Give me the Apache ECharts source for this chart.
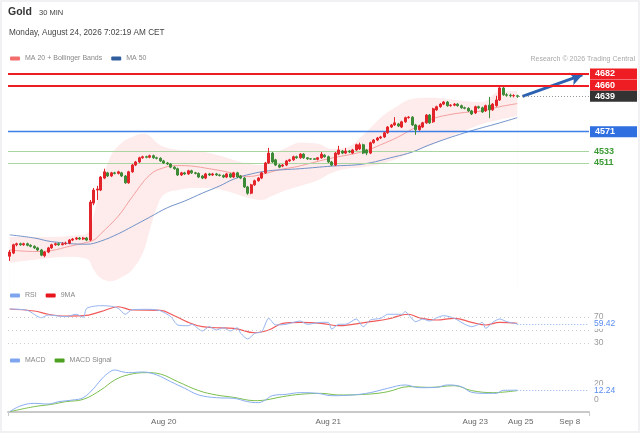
<!DOCTYPE html>
<html><head><meta charset="utf-8">
<script src="https://cdn.jsdelivr.net/npm/echarts@6/dist/echarts.min.js"></script>
<style>
html,body{margin:0;padding:0;background:#fff;}
#c{position:absolute;left:0;top:0;width:640px;height:433px;}
#frame{position:absolute;left:0;top:0;width:640px;height:433px;box-sizing:border-box;border:2px solid #f1f1f3;pointer-events:none;}
</style></head><body>
<div id="c"></div><div id="frame"></div>
<script>
// ---------- data ----------
const SLOTS = 166;                       // 146 candles + future space
const tickIndex = [44, 91, 133, 146, 160];
const tickText = ['Aug 20', 'Aug 21', 'Aug 23', 'Aug 25', 'Sep 8'];

// [open, close, low, high]
const ohlc = [
[4332,4340,4323,4344],[4338,4354,4336,4356],[4354,4356,4351,4358],[4356,4354,4352,4358],[4354,4356,4352,4358],
[4356,4353,4351,4358],[4353,4351,4349,4355],[4351,4348,4346,4353],[4348,4344,4342,4350],[4344,4334,4332,4346],
[4333,4340,4330,4342],[4340,4348,4338,4350],[4348,4354,4346,4356],[4354,4356,4352,4358],[4356,4354,4352,4358],
[4354,4356,4353,4359],[4356,4357,4354,4360],[4357,4363,4355,4365],[4363,4365,4361,4367],[4365,4367,4363,4369],
[4367,4365,4363,4369],[4365,4367,4363,4369],[4367,4363,4361,4369],[4363,4436,4361,4440],[4434,4459,4430,4463],
[4459,4461,4440,4467],[4459,4484,4457,4486],[4482,4494,4480,4500],[4492,4486,4484,4494],[4486,4492,4484,4494],
[4492,4491,4489,4494],[4491,4494,4489,4496],[4492,4486,4484,4494],[4486,4473,4471,4488],[4473,4494,4471,4496],
[4494,4507,4492,4509],[4507,4513,4505,4515],[4513,4521,4511,4523],[4521,4523,4519,4525],[4523,4522,4520,4525],
[4522,4525,4520,4527],[4525,4521,4519,4527],[4521,4520,4518,4523],[4520,4515,4513,4522],[4515,4511,4509,4517],
[4511,4509,4507,4513],[4509,4503,4501,4511],[4503,4500,4498,4505],[4500,4488,4486,4502],[4488,4492,4486,4494],
[4492,4490,4488,4494],[4490,4496,4488,4498],[4496,4492,4490,4498],[4492,4491,4489,4494],[4491,4484,4482,4493],
[4486,4482,4480,4488],[4482,4490,4480,4492],[4490,4488,4486,4492],[4488,4490,4486,4492],[4490,4488,4486,4492],
[4488,4487,4485,4490],[4487,4484,4482,4489],[4484,4490,4482,4492],[4490,4484,4482,4492],[4484,4492,4482,4494],
[4492,4484,4482,4494],[4486,4482,4480,4488],[4482,4465,4463,4484],[4465,4453,4450,4467],[4453,4469,4451,4471],
[4469,4477,4467,4479],[4477,4482,4475,4484],[4482,4492,4480,4494],[4492,4511,4490,4513],[4511,4530,4509,4540],
[4530,4513,4511,4532],[4517,4507,4505,4519],[4507,4503,4501,4509],[4505,4507,4503,4509],[4507,4515,4505,4517],
[4515,4517,4513,4519],[4517,4523,4515,4525],[4523,4521,4519,4525],[4521,4528,4519,4530],[4528,4521,4519,4530],
[4521,4519,4517,4522],[4519,4518.5,4517,4520],[4519,4518,4517,4520],[4518,4521,4516,4522],[4521,4528,4519,4532],
[4526,4523,4521,4528],[4523,4513,4511,4525],[4513,4507,4505,4515],[4507,4530,4505,4532],[4528,4536,4526,4544],
[4534,4530,4528,4536],[4530,4534,4528,4540],[4534,4532,4530,4536],[4530,4536,4528,4538],[4536,4546,4534,4548],
[4538,4546,4536,4550],[4546,4530,4528,4548],[4536,4530,4526,4538],[4530,4550,4528,4552],[4550,4555,4548,4557],
[4555,4559,4553,4561],[4559,4561,4557,4563],[4561,4569,4559,4571],[4569,4580,4567,4582],[4580,4584,4578,4586],
[4584,4588,4582,4599],[4586,4582,4580,4588],[4580,4590,4578,4592],[4590,4598,4588,4600],[4598,4599,4596,4601],
[4599,4584,4582,4601],[4584,4575,4565,4586],[4575,4582,4573,4584],[4580,4588,4578,4590],[4588,4603,4586,4605],
[4603,4588,4586,4605],[4590,4615,4588,4617],[4613,4619,4611,4621],[4619,4624,4617,4626],[4624,4628,4622,4630],
[4628,4621,4619,4630],[4621,4622,4619,4624],[4622,4624,4620,4626],[4624,4621,4619,4626],[4621,4617,4615,4623],
[4617,4616,4614,4619],[4616,4611,4609,4618],[4611,4605,4603,4613],[4607,4619,4605,4621],[4619,4617,4615,4621],
[4617,4609,4607,4619],[4611,4621,4609,4623],[4622,4613,4597,4638],[4613,4624,4611,4626],[4621,4632,4619,4640],
[4632,4655,4630,4657],[4655,4642,4640,4657],[4642,4641,4638,4645],[4641,4640,4637,4644],[4640,4640.5,4637,4643],
[4640,4639,4636,4642]
];

// [candle index, value] read at key points
const ma20 = [[0,4344],[7,4341],[12,4343],[17,4351],[21,4357],[24,4363],[26,4375],[31,4409],[35,4446],[40,4488],
[44,4502],[48,4506],[52,4505],[57,4500],[62,4494],[68,4485],[72,4489],[77,4498],[82,4504],[91,4519],[101,4533],
[106,4546],[111,4561],[115,4576],[120,4594],[125,4603],[130,4608],[135,4611],[140,4619],[145,4625]];
const ma50 = [[0,4373],[7,4367],[12,4360],[22,4355],[26,4361],[31,4375],[35,4389],[40,4407],[45,4425],[50,4438],
[55,4453],[60,4467],[64,4480],[69,4490],[74,4496],[78,4498],[83,4500],[92,4505],[101,4509],[110,4523],[115,4532],
[120,4546],[130,4569],[140,4588],[145,4598]];
const bandIndex = [0,7,12,17,22,24,26,29,32,35,38,40,42,44,48,53,57,62,67,72,75,79,83,88,92,96,101,106,110,115,120,125,130,135,140,145];
const bandUpper = [4369,4369,4369,4371,4375,4411,4469,4526,4550,4561,4567,4563,4550,4542,4536,4534,4530,4521,4511,4507,4526,4540,4550,4548,4538,4540,4565,4598,4617,4634,4636,4634,4630,4628,4648,4649];
const bandLower = [4319,4325,4329,4331,4327,4306,4290,4284,4292,4306,4338,4382,4425,4450,4459,4463,4463,4457,4446,4440,4448,4459,4467,4478,4492,4500,4503,4509,4517,4532,4544,4559,4573,4586,4594,4601];

const rsi = [[0,82.3],[5,80.3],[9,68.9],[11,73.1],[16,70.5],[19,74.2],[21,69.5],[22,83.4],[26,87.4],[29,86.5],[31,83.4],
[33,74.2],[35,81.2],[40,81.8],[43,79.7],[46,70.5],[48,57.7],[51,56.6],[52,58.8],[55,48.5],[57,55.1],[59,50.0],[61,53.5],
[63,48.5],[65,53.5],[66,44.9],[68,36.2],[70,44.9],[72,47.4],[74,68.0],[76,57.7],[79,58.8],[83,63.8],[85,58.8],[89,61.8],
[91,61.8],[92,51.5],[94,58.8],[96,58.8],[99,66.9],[101,55.1],[103,65.4],[106,68.0],[108,74.2],[112,74.2],[113,78.2],
[114,73.1],[116,62.8],[118,66.9],[120,63.8],[122,68.9],[124,72.0],[127,68.0],[130,58.8],[132,55.1],[134,58.8],[135,61.8],
[136,52.6],[138,61.8],[140,66.9],[142,62.8],[145,59.42]];
const rsiMA = [[0,82.3],[7,79.2],[11,74.2],[16,71.5],[21,72.0],[26,78.2],[31,85.8],[35,80.8],[43,80.3],[47,72.0],[51,61.8],
[55,55.1],[59,53.5],[64,52.6],[70,45.8],[74,50.0],[78,60.3],[83,61.8],[89,60.3],[94,56.6],[98,58.8],[103,62.8],[108,66.9],
[114,74.2],[117,68.9],[122,65.4],[127,68.0],[132,61.8],[136,57.7],[140,61.8],[145,60.3]];
const macd = [[0,-14.6],[3,-7.5],[7,-4.2],[11,-5],[14,-2.1],[18,0],[21,2.9],[24,14.6],[26,25],[28,33.3],[30,37.5],[32,35.4],
[34,34.2],[38,35],[42,31.3],[46,22.9],[50,14.6],[54,6.3],[59,2.9],[64,2.1],[68,-2.1],[71,-3.3],[73,0],[75,5.4],[79,7.1],
[83,9.2],[88,8.3],[92,5.4],[98,6.3],[103,9.2],[108,14.6],[113,18.8],[117,15.4],[122,15.8],[125,18.8],[129,16.7],[132,9.6],
[136,8.3],[139,8.3],[141,12.1],[145,12.24]];
const macdSignal = [[0,-14.6],[7,-8.3],[12,-5.4],[16,-2.1],[21,0.8],[26,12.5],[30,25],[34,31.7],[39,34.2],[43,32.5],[48,22.9],
[54,11.7],[59,6.3],[64,3.3],[70,-0.8],[73,0],[78,4.2],[83,7.1],[89,8.3],[94,6.3],[103,7.5],[108,10.4],[114,16.7],[120,15.8],
[127,17.9],[132,11.7],[138,9.2],[145,11.7]];

const resistance = [4682, 4660];
const lastPrice = 4639;
const pivot = 4571;
const support = [4533, 4511];
const target = 4682;
const rsiLevels = [70, 50, 30];
const rsiLast = 59.42;
const macdLevels = [20, 0];
const macdLast = 12.24;

// ---------- chart ----------
const categories = Array.from({length: SLOTS}, (_, i) => String(i));
const lastIdx = ohlc.length - 1;
const END = SLOTS - 0.5;
const FONT = 'Liberation Sans, Arial, sans-serif';

function tag(bg, text) {
  return {show: true, position: 'end', distance: 1, formatter: String(text), color: '#fff',
    backgroundColor: bg, fontSize: 9, fontWeight: 'bold', fontFamily: FONT, padding: [1, 22, 1, 5], lineHeight: 9};
}
function plain(color, text, bg) {
  const l = {show: true, position: 'end', distance: 5, formatter: String(text), color: color, fontSize: 8.5, fontFamily: FONT};
  if (bg) { l.backgroundColor = bg; l.padding = [1, 2, 0, 2]; l.distance = 3; }
  return l;
}

const valueX = (grid) => ({type: 'value', gridIndex: grid, min: -0.5, max: END, show: false});
const bandUp = bandUpper.map((v, k) => [bandIndex[k], v]);
const bandLow = bandLower.map((v, k) => [bandIndex[k], v]);

const mainLines = [];
resistance.forEach(v => mainLines.push({yAxis: v, lineStyle: {color: '#ee1d23', width: 2, type: 'solid'}, label: tag('#ee1d23', v)}));
mainLines.push({yAxis: pivot, lineStyle: {color: '#3f7fe6', width: 1.3, type: 'solid'}, label: tag('#2f6fe0', pivot)});
support.forEach(v => mainLines.push({yAxis: v, lineStyle: {color: '#a9d6a0', width: 1, type: 'solid'},
  label: Object.assign(plain('#3c9a35', v), {fontWeight: 'bold', fontSize: 9})}));
mainLines.push([{coord: [lastIdx + 0.5, lastPrice], lineStyle: {color: '#999', width: 1, type: [1, 2]}, label: tag('#333', lastPrice)},
  {coord: [END, lastPrice]}]);

const option = {
  animation: false,
  backgroundColor: '#fff',
  textStyle: {fontFamily: FONT},
  title: [
    {text: 'Gold', left: 8, top: 7, padding: 0, textStyle: {fontSize: 10.5, fontWeight: 'bold', color: '#333', fontFamily: FONT}},
    {text: '30 MIN', left: 39, top: 9, padding: 0, textStyle: {fontSize: 7.5, fontWeight: 'normal', color: '#444', fontFamily: FONT}},
    {text: 'Monday, August 24, 2026 7:02:19 AM CET', left: 9, top: 28.5, padding: 0, textStyle: {fontSize: 8.2, fontWeight: 'normal', color: '#444', fontFamily: FONT}},
    {text: 'Research \u00a9 2026 Trading Central', right: 5, top: 55.5, padding: 0, textStyle: {fontSize: 7, fontWeight: 'normal', color: '#aaa', fontFamily: FONT}}
  ],
  legend: [
    {left: 10, top: 55, padding: 0, icon: 'roundRect', itemWidth: 10, itemHeight: 4, itemGap: 9, selectedMode: false,
      textStyle: {fontSize: 7, color: '#888'},
      data: [{name: 'MA 20 + Bollinger Bands', itemStyle: {color: '#f36d6d'}}, {name: 'MA 50', itemStyle: {color: '#2f5d9e'}}]},
    {left: 10, top: 292, padding: 0, icon: 'roundRect', itemWidth: 10, itemHeight: 4, itemGap: 9, selectedMode: false,
      textStyle: {fontSize: 7, color: '#888'},
      data: [{name: 'RSI', itemStyle: {color: '#7fa5ef'}}, {name: '9MA', itemStyle: {color: '#e8141c'}}]},
    {left: 10, top: 357, padding: 0, icon: 'roundRect', itemWidth: 10, itemHeight: 4, itemGap: 9, selectedMode: false,
      textStyle: {fontSize: 7, color: '#888'},
      data: [{name: 'MACD', itemStyle: {color: '#7fa5ef'}}, {name: 'MACD Signal', itemStyle: {color: '#4ea020'}}]}
  ],
  grid: [
    {left: 8, right: 51, top: 64, height: 224},
    {left: 8, right: 51, top: 304, height: 52},
    {left: 8, right: 51, top: 364, height: 48}
  ],
  xAxis: [
    {type: 'category', gridIndex: 0, data: categories, boundaryGap: true, show: false},
    valueX(0),
    valueX(1),
    {type: 'category', gridIndex: 2, data: categories, boundaryGap: true,
      axisLine: {onZero: false, lineStyle: {color: '#c9c9c9', width: 2}},
      axisTick: {show: true, interval: (idx) => idx === 0, length: 4, lineStyle: {color: '#c9c9c9', width: 1}},
      axisLabel: {interval: (idx) => tickIndex.includes(idx), formatter: (v, idx) => tickText[tickIndex.indexOf(idx)] || '',
        color: '#666', fontSize: 8, margin: 6, fontFamily: FONT}},
    valueX(2)
  ],
  yAxis: [
    {type: 'value', gridIndex: 0, min: 4271, max: 4701, show: false, splitLine: {show: false}},
    {type: 'value', gridIndex: 1, min: 10, max: 90, show: false, splitLine: {show: false}},
    {type: 'value', gridIndex: 2, min: -15, max: 45, show: false, splitLine: {show: false}}
  ],
  series: [
    {name: 'bandUpper', type: 'line', xAxisIndex: 1, yAxisIndex: 0, data: bandUp, symbol: 'none',
      smooth: 0.4, lineStyle: {opacity: 0}, areaStyle: {color: 'rgba(248,150,150,0.27)', origin: 'start'}, silent: true, z: 1},
    {name: 'bandLower', type: 'line', xAxisIndex: 1, yAxisIndex: 0, data: bandLow, symbol: 'none',
      smooth: 0.4, lineStyle: {opacity: 0}, areaStyle: {color: '#ffffff', opacity: 1, origin: 'start'}, silent: true, z: 1},
    {name: 'MA 20 + Bollinger Bands', type: 'line', xAxisIndex: 1, yAxisIndex: 0, data: ma20, symbol: 'none', smooth: 0.4,
      lineStyle: {color: '#f4a0a0', width: 1}, itemStyle: {color: '#f36d6d'}, z: 3,
      markLine: {symbol: ['none', 'arrow'], symbolSize: [10, 12], silent: true, label: {show: false},
        lineStyle: {color: '#2d62b0', width: 3, type: 'solid'},
        data: [[{coord: [lastIdx + 1.5, lastPrice]}, {coord: [163.6, target - 2]}]]}},
    {name: 'MA 50', type: 'line', xAxisIndex: 1, yAxisIndex: 0, data: ma50, symbol: 'none', smooth: 0.4,
      lineStyle: {color: '#7393c9', width: 1}, itemStyle: {color: '#2f5d9e'}, z: 3,
      markLine: {symbol: 'none', silent: true, data: mainLines}},
    {name: 'Gold', type: 'candlestick', xAxisIndex: 0, yAxisIndex: 0, data: ohlc, barWidth: 2.8, z: 5,
      itemStyle: {color: '#e3242b', color0: '#3d8b37', borderColor: '#e3242b', borderColor0: '#3d8b37', borderWidth: 1}},

    {name: '9MA', type: 'line', xAxisIndex: 2, yAxisIndex: 1, data: rsiMA, symbol: 'none', smooth: 0.4,
      lineStyle: {color: '#f25a5a', width: 1.2}, itemStyle: {color: '#e8141c'}, z: 2,
      markLine: {symbol: 'none', silent: true,
        data: rsiLevels.map(v => ({yAxis: v, lineStyle: {color: '#cfcfcf', width: 1, type: [1, 3]}, label: plain('#999', v)}))}},
    {name: 'RSI', type: 'line', xAxisIndex: 2, yAxisIndex: 1, data: rsi, symbol: 'none', smooth: 0.25,
      lineStyle: {color: '#95b4f0', width: 1}, itemStyle: {color: '#7fa5ef'}, z: 3,
      markLine: {symbol: 'none', silent: true,
        data: [[{coord: [lastIdx, rsiLast], lineStyle: {color: '#8fb0f0', width: 1, type: [1, 2]}, label: plain('#5b8def', rsiLast, '#fff')},
          {coord: [END, rsiLast]}]]}},

    {name: 'MACD Signal', type: 'line', xAxisIndex: 4, yAxisIndex: 2, data: macdSignal, symbol: 'none', smooth: 0.4,
      lineStyle: {color: '#7cbf4d', width: 1}, itemStyle: {color: '#4ea020'}, z: 2,
      markLine: {symbol: 'none', silent: true,
        data: macdLevels.map(v => ({yAxis: v, lineStyle: {color: 'rgba(0,0,0,0)', width: 0}, label: plain('#999', v)}))}},
    {name: 'MACD', type: 'line', xAxisIndex: 4, yAxisIndex: 2, data: macd, symbol: 'none', smooth: 0.4,
      lineStyle: {color: '#8aaef0', width: 1}, itemStyle: {color: '#7fa5ef'}, z: 3,
      markLine: {symbol: 'none', silent: true,
        data: [[{coord: [lastIdx, macdLast], lineStyle: {color: '#8fb0f0', width: 1, type: [1, 2]}, label: plain('#5b8def', macdLast, '#fff')},
          {coord: [END, macdLast]}]]}}
  ]
};

const chart = echarts.init(document.getElementById('c'), null, {renderer: 'canvas'});
chart.setOption(option);
</script>
</body></html>
